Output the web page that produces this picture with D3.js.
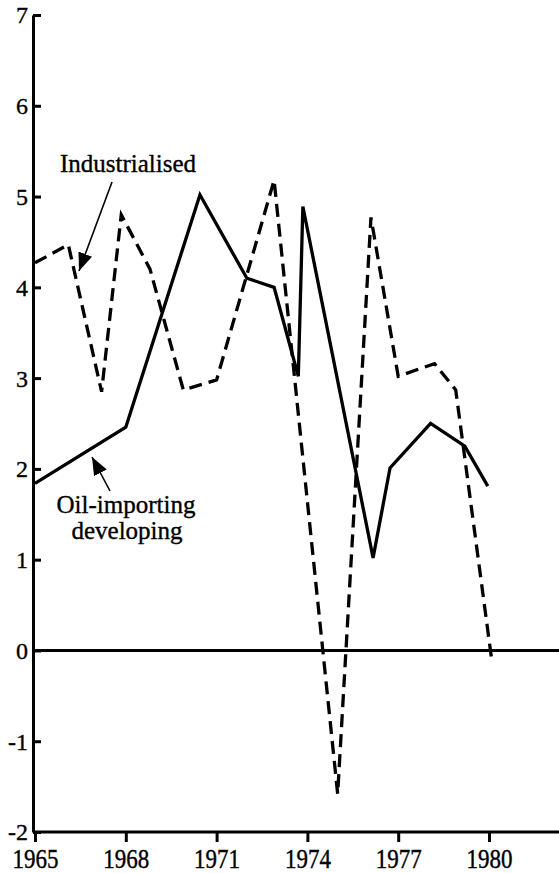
<!DOCTYPE html>
<html>
<head>
<meta charset="utf-8">
<script src="https://d3js.org/d3.v7.min.js"></script>
<style>
  body { margin: 0; background: #fff; }
  svg text { font-family: "Liberation Serif", "DejaVu Serif", serif; fill: #000; stroke: #000; stroke-width: 0.35px; }
</style>
</head>
<body>
<div id="chart"></div>
<script>
// growth rates, % per year
let indYears  = [1965, 1966.1, 1967.2, 1967.85, 1968.8, 1969.9, 1971.0, 1972.9, 1975.0, 1976.1, 1977.0, 1978.2, 1978.9, 1980.1];
let indValues = [4.27, 4.47, 2.85, 4.80, 4.20, 2.87, 2.98, 5.18, -1.58, 4.77, 3.02, 3.16, 2.87, -0.13];

let devYears  = [1965, 1968, 1970.45, 1972.0, 1972.9, 1973.7, 1973.85, 1976.17, 1976.73, 1978.07, 1979.2, 1979.96];
let devValues = [1.84, 2.46, 5.02, 4.10, 4.00, 3.02, 4.89, 1.02, 2.01, 2.50, 2.25, 1.81];

let xTicks = [1965, 1968, 1971, 1974, 1977, 1980];
let yTicks = [-2, -1, 0, 1, 2, 3, 4, 5, 6, 7];

let W = 559, H = 873;
let svg = d3.select("#chart").append("svg")
  .attr("width", W).attr("height", H);

let x = d3.scaleLinear().domain([1965, 1980]).range([35, 489]);
let y = d3.scaleLinear().domain([-2, 7]).range([832, 15]);
let axisX = 33;

// y axis, ticks pointing inward
let yAxis = svg.append("g")
  .attr("transform", "translate(" + axisX + ",0)")
  .call(d3.axisLeft(y).tickValues(yTicks).tickSize(-8).tickSizeOuter(0).tickPadding(5)
    .tickFormat(d => String(d)));
yAxis.attr("font-family", null);
yAxis.select(".domain").attr("stroke-width", 3);
yAxis.selectAll(".tick line").attr("stroke-width", 3);
yAxis.selectAll(".tick text").attr("font-size", 24).attr("dy", "0.33em");

// x axis along the bottom
let xAxis = svg.append("g")
  .attr("transform", "translate(0," + y(-2) + ")")
  .call(d3.axisBottom(x).tickValues(xTicks).tickSize(10).tickSizeOuter(0).tickPadding(0)
    .tickFormat(d => String(d)));
xAxis.attr("font-family", null);
xAxis.select(".domain").attr("d", "M" + axisX + ",0H" + W).attr("stroke-width", 3);
xAxis.selectAll(".tick line").attr("stroke-width", 3);
xAxis.selectAll(".tick text").attr("font-size", 23).attr("dy", null).attr("y", 0)
  .attr("transform", "translate(0,36) scale(1,1.2)");

// zero line
svg.append("line")
  .attr("x1", axisX).attr("x2", W)
  .attr("y1", y(0)).attr("y2", y(0))
  .attr("stroke", "#000").attr("stroke-width", 3);

let line = d3.line().x(d => x(d[0])).y(d => y(d[1]));

svg.append("path")
  .datum(d3.zip(indYears, indValues))
  .attr("d", line)
  .attr("fill", "none").attr("stroke", "#000")
  .attr("stroke-width", 3.3).attr("stroke-dasharray", "13,7");

svg.append("path")
  .datum(d3.zip(devYears, devValues))
  .attr("d", line)
  .attr("fill", "none").attr("stroke", "#000")
  .attr("stroke-width", 3.3).attr("stroke-linejoin", "miter");

// arrowhead
svg.append("defs").append("marker")
  .attr("id", "arrow")
  .attr("viewBox", "0 0 10 10")
  .attr("refX", 10).attr("refY", 5)
  .attr("markerUnits", "userSpaceOnUse")
  .attr("markerWidth", 18).attr("markerHeight", 18)
  .attr("orient", "auto")
  .append("path").attr("d", "M0,1L10,5L0,9Z").attr("fill", "#000");

// labels
svg.append("text").attr("x", 60).attr("y", 172).attr("font-size", 25).text("Industrialised");
svg.append("line")
  .attr("x1", 112).attr("y1", 182).attr("x2", 79).attr("y2", 271)
  .attr("stroke", "#000").attr("stroke-width", 1.6).attr("marker-end", "url(#arrow)");

svg.append("text").attr("x", 126).attr("y", 513).attr("font-size", 25)
  .attr("text-anchor", "middle").text("Oil-importing");
svg.append("text").attr("x", 127).attr("y", 539).attr("font-size", 25)
  .attr("text-anchor", "middle").text("developing");
svg.append("line")
  .attr("x1", 110).attr("y1", 491).attr("x2", 92).attr("y2", 457)
  .attr("stroke", "#000").attr("stroke-width", 1.6).attr("marker-end", "url(#arrow)");
</script>
</body>
</html>
